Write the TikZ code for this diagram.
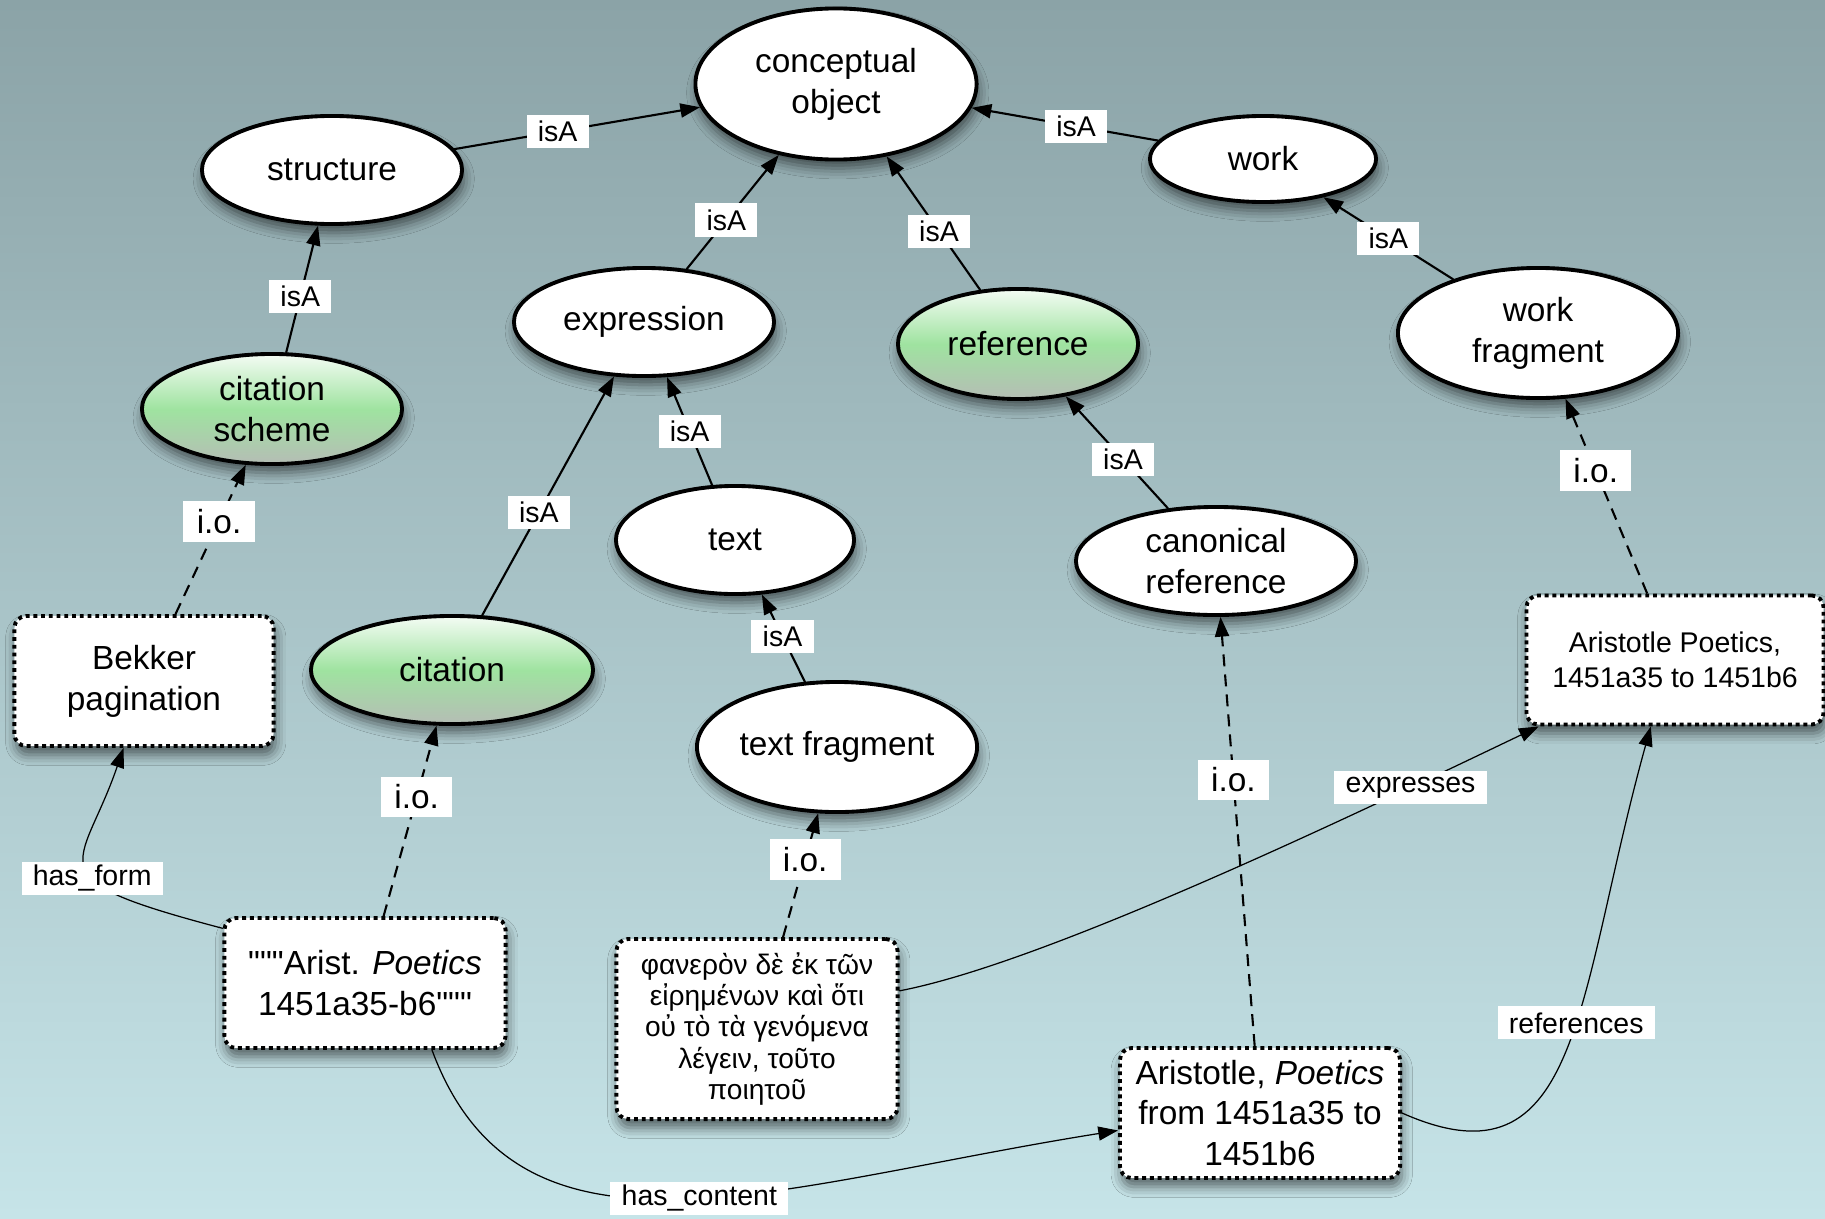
\documentclass[tikz,border=0pt]{standalone}
\usepackage{fontspec}
\setmainfont{Liberation Sans}[Ligatures=TeXOff]
\usetikzlibrary{arrows.meta,shapes.geometric,shadows.blur}
\definecolor{bgtop}{HTML}{8BA3A7}
\definecolor{bgbot}{HTML}{C6E4E8}
\definecolor{gtop}{HTML}{F4FCF4}
\definecolor{gmid}{HTML}{9FE3A0}
\definecolor{gbot}{HTML}{B5BDB5}
\newcommand{\nodefont}{\fontsize{9.5}{11.6}\selectfont}
\newcommand{\lblfont}{\fontsize{8.1}{9.9}\selectfont}
\newcommand{\grkfont}{\fontsize{8}{8.9}\selectfont}
\tikzset{
	cls/.style={ellipse, draw, line width=1.1pt, fill=white, inner sep=0pt, align=center, font=\nodefont,
		blur shadow={shadow xshift=0.5pt, shadow yshift=-2.5pt, shadow blur radius=3pt, shadow opacity=55}},
	keycls/.style={cls, top color=gtop, bottom color=gbot, middle color=gmid},
	inst/.style={rectangle, rounded corners=3.4pt, draw, line width=1.1pt, line cap=butt, dash pattern=on 1.1pt off 1.1pt,
		fill=white, inner sep=0pt, align=center, font=\nodefont,
		blur shadow={shadow xshift=0.5pt, shadow yshift=-2.5pt, shadow blur radius=3pt, shadow opacity=55}},
	isa/.style={->, line width=0.6pt},
	io/.style={->, line width=0.6pt, line cap=butt, dash pattern=on 3.4pt off 2.3pt},
	rel/.style={->, line width=0.35pt},
	lbl/.style={fill=white, font=\lblfont, inner xsep=3.2pt, inner ysep=0pt, minimum height=9.4pt},
	iolbl/.style={fill=white, font=\nodefont, inner xsep=3.8pt, inner ysep=0pt, minimum height=11.6pt}
}
\begin{document}
\begin{tikzpicture}[line cap=round,line join=round,>={Triangle[length=5.6pt,width=4pt]},x=0.01cm,y=-0.01cm]
	\useasboundingbox (0,0) rectangle (1825,1218);
	\shade[top color=bgtop, bottom color=bgbot] (0,0) rectangle (1825,1218);
	\node[cls, minimum width=2.81cm, minimum height=1.51cm] (concept) at (836,84) {conceptual\\object};
	\node[cls, minimum width=2.6cm, minimum height=1.08cm] (structure) at (332,170) {structure};
	\node[cls, minimum width=2.26cm, minimum height=0.86cm] (work) at (1263,159) {work};
	\node[cls, minimum width=2.6cm, minimum height=1.08cm] (expression) at (644,322) {expression};
	\node[keycls, minimum width=2.4cm, minimum height=1.1cm] (reference) at (1018,344) {reference};
	\node[cls, minimum width=2.8cm, minimum height=1.3cm] (wfragment) at (1538,333) {work\\fragment};
	\node[keycls, minimum width=2.6cm, minimum height=1.1cm] (cscheme) at (272,409) {citation\\scheme};
	\node[cls, minimum width=2.38cm, minimum height=1.08cm] (txt) at (735,540) {text};
	\node[cls, minimum width=2.8cm, minimum height=1.08cm] (canonical) at (1216,561) {canonical\\reference};
	\node[keycls, minimum width=2.82cm, minimum height=1.08cm] (citation) at (452,670) {citation};
	\node[cls, minimum width=2.8cm, minimum height=1.3cm] (tfragment) at (837,747) {text fragment};
	\node[inst, minimum width=2.59cm, minimum height=1.3cm] (bekker) at (144,681) {Bekker\\pagination};
	\node[inst, minimum width=2.97cm, minimum height=1.29cm, font=\lblfont] (poetics) at (1675,660) {Aristotle Poetics,\\1451a35 to 1451b6};
	\node[inst, minimum width=2.81cm, minimum height=1.3cm] (arist) at (365,983) {"""Arist. \textit{Poetics}\\1451a35-b6"""};
	\node[inst, minimum width=2.81cm, minimum height=1.8cm, font=\grkfont] (greek) at (757,1029) {φανερὸν δὲ ἐκ τῶν\\εἰρημένων καὶ ὅτι\\οὐ τὸ τὰ γενόμενα\\λέγειν, τοῦτο\\ποιητοῦ};
	\node[inst, minimum width=2.8cm, minimum height=1.3cm] (aristfrom) at (1260,1113) {Aristotle, \textit{Poetics}\\from 1451a35 to\\1451b6};
	\draw[isa] (structure) -- node[lbl,pos=0.42]{isA} (concept);
	\draw[isa] (cscheme) -- node[lbl,pos=0.44]{isA} (structure);
	\draw[isa] (expression) -- node[lbl,pos=0.43]{isA} (concept);
	\draw[isa] (reference) -- node[lbl,pos=0.44]{isA} (concept);
	\draw[isa] (work) -- node[lbl,pos=0.44]{isA} (concept);
	\draw[isa] (wfragment) -- node[lbl,pos=0.5]{isA} (work);
	\draw[isa] (citation) -- node[lbl,pos=0.43]{isA} (expression);
	\draw[isa] (txt) -- node[lbl,pos=0.5]{isA} (expression);
	\draw[isa] (canonical) -- node[lbl,pos=0.44]{isA} (reference);
	\draw[isa] (tfragment) -- node[lbl,pos=0.52]{isA} (txt);
	\draw[io] (bekker) -- node[iolbl,pos=0.62]{i.o.} (cscheme);
	\draw[io] (arist) -- node[iolbl,pos=0.625]{i.o.} (citation);
	\draw[io] (greek) -- node[iolbl,pos=0.63]{i.o.} (tfragment);
	\draw[io] (aristfrom) -- node[iolbl,pos=0.62]{i.o.} (canonical);
	\draw[io] (poetics) -- node[iolbl,pos=0.63]{i.o.} (wfragment);
	\draw[rel] (arist.159) .. controls +(-193,-51) and +(-42,123) .. node[lbl,pos=0.4]{has\_form} (bekker.253);
	\draw[rel] (arist.315) .. controls +(87,235) and +(-346,55) .. node[lbl,pos=0.53]{has\_content} (aristfrom.187);
	\draw[rel] (greek.15) .. controls +(147,-28) and +(-180,86) .. node[lbl,pos=0.79]{expresses} (poetics.206);
	\draw[rel] (aristfrom.east) .. controls +(180,80) and +(-75,270) .. node[lbl,pos=0.56]{references} (poetics.250);
\end{tikzpicture}
\end{document}
